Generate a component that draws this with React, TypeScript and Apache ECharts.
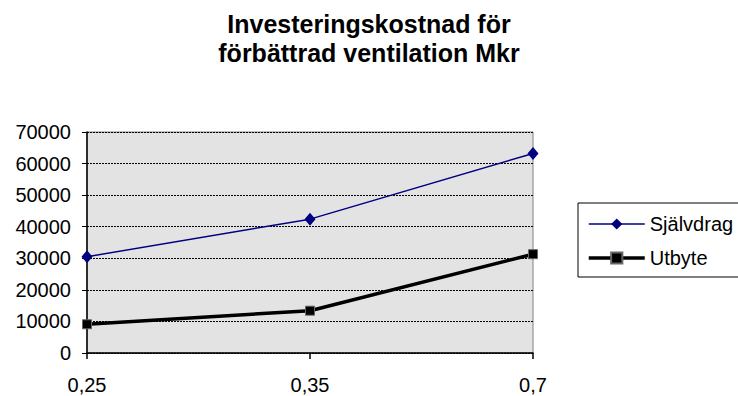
import React, { useEffect, useRef } from "react";
import * as echarts from "echarts";

const categories = ["0,25", "0,35", "0,7"];
const sjalvdrag = [30500, 42400, 63200];
const utbyte = [9100, 13400, 31300];
const seriesNames = ["Självdrag", "Utbyte"];
const titleText = "Investeringskostnad för\nförbättrad ventilation Mkr";

const FONT = "'Liberation Sans', Arial, Helvetica, sans-serif";

export default function App() {
  const ref = useRef<HTMLDivElement>(null);
  useEffect(() => {
    if (!ref.current) return;
    const chart = echarts.init(ref.current, undefined, { renderer: "svg" });
    chart.setOption({
      animation: false,
      backgroundColor: "#ffffff",
      textStyle: { fontFamily: FONT },
      title: {
        text: titleText,
        left: "center",
        top: 9,
        padding: 0,
        textStyle: {
          fontFamily: FONT,
          fontSize: 25,
          fontWeight: "bold",
          color: "#000",
          lineHeight: 29,
        },
      },
      legend: {
        orient: "vertical",
        left: 578,
        top: 203,
        padding: [11, 10, 9, 9],
        itemGap: 14,
        itemWidth: 56,
        itemHeight: 14,
        borderColor: "#000",
        borderWidth: 1,
        backgroundColor: "#fff",
        textStyle: { fontFamily: FONT, fontSize: 20, color: "#000" },
        data: [
          { name: seriesNames[0], lineStyle: { width: 1.5, color: "#000080" } },
          { name: seriesNames[1], lineStyle: { width: 3.5, color: "#000" } },
        ],
      },
      grid: {
        left: 87,
        right: 205,
        top: 132,
        bottom: 43,
        show: true,
        backgroundColor: "#e3e3e3",
        borderColor: "#808080",
        borderWidth: 1,
      },
      xAxis: {
        type: "category",
        data: categories,
        boundaryGap: false,
        axisLine: { lineStyle: { color: "#000", width: 1.5 } },
        axisTick: { show: true, length: 6, alignWithLabel: true, lineStyle: { color: "#000", width: 1.5 } },
        axisLabel: { color: "#000", fontSize: 20, fontFamily: FONT, margin: 22 },
        splitLine: { show: false },
      },
      yAxis: {
        type: "value",
        min: 0,
        max: 70000,
        interval: 10000,
        axisLine: { show: true, lineStyle: { color: "#000", width: 1.5 } },
        axisTick: { show: true, length: 5, lineStyle: { color: "#000", width: 1 } },
        axisLabel: {
          color: "#000",
          fontSize: 20,
          fontFamily: FONT,
          margin: 16,
          formatter: (v: number) => String(v),
        },
        splitLine: { show: true, lineStyle: { color: "#000", width: 1, type: [2, 1] } },
      },
      series: [
        {
          name: seriesNames[0],
          type: "line",
          data: sjalvdrag,
          symbol: "diamond",
          symbolSize: [11, 13],
          lineStyle: { color: "#000080", width: 1.5 },
          itemStyle: { color: "#000080" },
        },
        {
          name: seriesNames[1],
          type: "line",
          data: utbyte,
          symbol: "rect",
          symbolSize: 9,
          lineStyle: { color: "#000", width: 3.5 },
          itemStyle: { color: "#000", borderColor: "#666", borderWidth: 1 },
        },
      ],
    });
    return () => chart.dispose();
  }, []);
  return (
    <div
      ref={ref}
      style={{ position: "fixed", left: 0, top: 0, width: 738, height: 396 }}
    />
  );
}
